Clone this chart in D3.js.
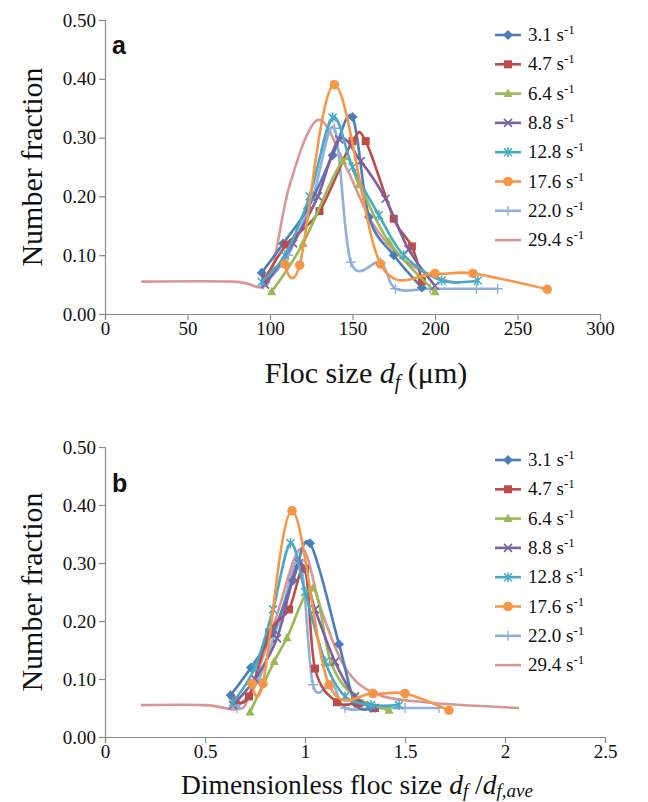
<!DOCTYPE html>
<html><head><meta charset="utf-8">
<script src="https://cdn.jsdelivr.net/npm/d3@7"></script>
<style>body{margin:0;background:#fff}svg{display:block}</style>
</head><body><svg id="c" width="648" height="802"></svg>
<script>
// ---- data ----
const seriesNames = ["3.1","4.7","6.4","8.8","12.8","17.6","22.0","29.4"];
const seriesColors = ["#4A7EBB","#BE4B48","#98B954","#7D60A0","#46AAC5","#F79646","#8FB0DC","#D99694"];
const seriesMarkers = ["diamond","square","triangle","x","star","circle","plus","none"];

const xTicksA = [0,50,100,150,200,250,300];
const xTicksB = [0,0.5,1,1.5,2,2.5];
const yTicks = [0,0.1,0.2,0.3,0.4,0.5];

// panel a: floc size (um), number fraction
const a31 = [[95,0.07],[108,0.12],[123,0.18],[138,0.27],[150,0.335],[160,0.165],[175,0.1],[192,0.045]];
const a47 = [[97,0.06],[110,0.118],[130,0.175],[150,0.294],[158,0.294],[175,0.162],[186,0.115],[192,0.056]];
const a64 = [[101,0.038],[120,0.12],[144,0.26],[154,0.22],[172,0.123],[200,0.038]];
const a88 = [[97,0.05],[114,0.12],[129,0.2],[142,0.297],[155,0.26],[170,0.196],[184,0.11],[200,0.048]];
const a128 = [[95,0.055],[109,0.1],[124,0.2],[138,0.334],[150,0.25],[166,0.168],[181,0.1],[204,0.057],[226,0.057]];
const a176 = [[109,0.085],[118,0.083],[139,0.39],[167,0.085],[200,0.069],[223,0.069],[268,0.042]];
const a220 = [[96,0.05],[111,0.1],[126,0.2],[139,0.316],[149,0.088],[167,0.088],[176,0.043],[197,0.043],[225,0.043],[238,0.043]];
const a294 = [[22,0.055],[78,0.055],[94,0.046],[101,0.07],[112,0.22],[129,0.33],[146,0.25],[162,0.155],[182,0.09],[203,0.06],[215,0.053]];

// panel b: dimensionless floc size, number fraction
const b31 = [[0.628,0.072],[0.73,0.12],[0.84,0.18],[0.94,0.27],[1.025,0.334],[1.17,0.16],[1.25,0.058],[1.33,0.05]];
const b47 = [[0.652,0.063],[0.72,0.07],[0.82,0.18],[0.92,0.22],[1.0,0.29],[1.05,0.118],[1.16,0.06],[1.27,0.058],[1.35,0.05]];
const b64 = [[0.725,0.043],[0.846,0.13],[0.91,0.171],[1.04,0.257],[1.13,0.128],[1.25,0.07],[1.42,0.046]];
const b88 = [[0.64,0.055],[0.75,0.1],[0.86,0.17],[0.97,0.3],[1.05,0.22],[1.15,0.13],[1.25,0.07],[1.35,0.05]];
const b128 = [[0.64,0.06],[0.75,0.12],[0.84,0.22],[0.927,0.334],[1.0,0.25],[1.1,0.13],[1.2,0.07],[1.33,0.055],[1.47,0.055]];
const b176 = [[0.735,0.092],[0.79,0.092],[0.935,0.39],[1.12,0.09],[1.34,0.075],[1.5,0.075],[1.72,0.046]];
const b220 = [[0.66,0.05],[0.77,0.1],[0.87,0.2],[0.975,0.303],[1.04,0.09],[1.135,0.092],[1.2,0.05],[1.35,0.05],[1.5,0.05],[1.67,0.05]];
const b294 = [[0.18,0.055],[0.5,0.055],[0.66,0.048],[0.72,0.07],[0.85,0.2],[0.98,0.325],[1.08,0.22],[1.2,0.12],[1.35,0.075],[1.6,0.06],[2.07,0.05]];

const dataA = [a31,a47,a64,a88,a128,a176,a220,a294];
const dataB = [b31,b47,b64,b88,b128,b176,b220,b294];

// ---- drawing ----
const svg = d3.select("#c");
svg.append("rect").attr("width",648).attr("height",802).attr("fill","#fff");
const serif = "'Liberation Serif','Times New Roman',serif";
const axisCol = "#8a8a8a";

function marker(g, type, x, y, col){
  const s = 4;
  if(type==="diamond") g.append("path").attr("d",`M${x},${y-s-1}L${x+s+1},${y}L${x},${y+s+1}L${x-s-1},${y}Z`).attr("fill",col);
  else if(type==="square") g.append("rect").attr("x",x-s).attr("y",y-s).attr("width",2*s).attr("height",2*s).attr("fill",col);
  else if(type==="triangle") g.append("path").attr("d",`M${x},${y-s-1}L${x+s+0.5},${y+s-0.5}L${x-s-0.5},${y+s-0.5}Z`).attr("fill",col);
  else if(type==="circle") g.append("circle").attr("cx",x).attr("cy",y).attr("r",s+0.8).attr("fill",col);
  else if(type==="x") g.append("path").attr("d",`M${x-s},${y-s}L${x+s},${y+s}M${x-s},${y+s}L${x+s},${y-s}`).attr("stroke",col).attr("stroke-width",1.6);
  else if(type==="star") g.append("path").attr("d",`M${x-s},${y-s}L${x+s},${y+s}M${x-s},${y+s}L${x+s},${y-s}M${x},${y-s-1}L${x},${y+s+1}`).attr("stroke",col).attr("stroke-width",1.5);
  else if(type==="plus") g.append("path").attr("d",`M${x-s-1},${y}L${x+s+1},${y}M${x},${y-s-1}L${x},${y+s+1}`).attr("stroke",col).attr("stroke-width",1.4);
}

function panel(opt){
  const x = d3.scaleLinear().domain(opt.xDomain).range([105,opt.right]);
  const y = d3.scaleLinear().domain([0,0.5]).range([opt.bottom,opt.top]);
  const g = svg.append("g");
  const ya = g.append("g").attr("transform",`translate(105,0)`)
    .call(d3.axisLeft(y).tickValues(yTicks).tickFormat(d3.format(".2f")).tickSize(6).tickPadding(3));
  const xa = g.append("g").attr("transform",`translate(0,${opt.bottom})`)
    .call(d3.axisBottom(x).tickValues(opt.xTicks).tickFormat(opt.xFmt).tickSize(6).tickPadding(2));
  [ya,xa].forEach(a=>{
    a.selectAll("path,line").attr("stroke",axisCol).attr("stroke-width",1.2);
    a.selectAll("text").attr("font-family",serif).attr("font-size",19).attr("fill","#111");
  });
  const line = d3.line().x(d=>x(d[0])).y(d=>y(d[1])).curve(d3.curveCardinal.tension(0));
  const order = [7,6,0,1,2,3,4,5];
  order.forEach(i=>{
    const data = opt.data[i];
    g.append("path").datum(data).attr("d",line).attr("fill","none")
      .attr("stroke",seriesColors[i]).attr("stroke-width",2.6).attr("stroke-linejoin","round");
    const mg = g.append("g");
    data.forEach(d=>marker(mg,seriesMarkers[i],x(d[0]),y(d[1]),seriesColors[i]));
  });
  // legend
  const lg = g.append("g");
  seriesNames.forEach((n,i)=>{
    const ly = opt.legendTop + i*29.3;
    lg.append("line").attr("x1",495).attr("x2",521).attr("y1",ly).attr("y2",ly)
      .attr("stroke",seriesColors[i]).attr("stroke-width",2.6);
    marker(lg,seriesMarkers[i],508,ly,seriesColors[i]);
    const t = lg.append("text").attr("x",528).attr("y",ly+6).attr("font-family",serif).attr("font-size",19).attr("fill","#111");
    t.append("tspan").text(n+" s");
    t.append("tspan").attr("dy",-7).attr("font-size",13).text("-1");
  });
  // panel letter
  g.append("text").attr("x",112).attr("y",opt.letterY).attr("font-family","'Liberation Sans',Arial,sans-serif")
    .attr("font-weight","bold").attr("font-size",25).attr("fill","#111").text(opt.letter);
  // y title
  g.append("text").attr("transform",`translate(31,${(opt.top+opt.bottom)/2}) rotate(-90)`)
    .attr("text-anchor","middle").attr("dy","0.35em").attr("font-family",serif).attr("font-size",30).attr("fill","#111").text("Number fraction");
  // x title
  const xt = g.append("text").attr("x",opt.titleX).attr("y",opt.titleY).attr("text-anchor","middle")
    .attr("font-family",serif).attr("font-size",opt.titleSize).attr("fill","#111");
  opt.xTitle(xt);
}

panel({letter:"a", top:20, bottom:314, right:600, letterY:54, titleY:383, titleX:366, titleSize:30, xDomain:[0,300], xTicks:xTicksA, xFmt:d3.format("d"), legendTop:35, data:dataA,
  xTitle: t=>{
    t.append("tspan").text("Floc size ");
    t.append("tspan").attr("font-style","italic").text("d");
    t.append("tspan").attr("font-style","italic").attr("font-size",20).attr("dy",6).text("f");
    t.append("tspan").attr("dy",-6).text(" (\u03BCm)");
  }});
panel({letter:"b", top:447, bottom:737, right:605, letterY:492, titleY:794, titleX:357, titleSize:27.5, xDomain:[0,2.5], xTicks:xTicksB, xFmt:d=>String(d), legendTop:460, data:dataB,
  xTitle: t=>{
    t.append("tspan").text("Dimensionless floc size ");
    t.append("tspan").attr("font-style","italic").text("d");
    t.append("tspan").attr("font-style","italic").attr("font-size",19).attr("dy",3).text("f");
    t.append("tspan").attr("dy",-3).text(" /");
    t.append("tspan").attr("font-style","italic").text("d");
    t.append("tspan").attr("font-style","italic").attr("font-size",19).attr("dy",3).text("f,ave");
  }});
</script></body></html>
